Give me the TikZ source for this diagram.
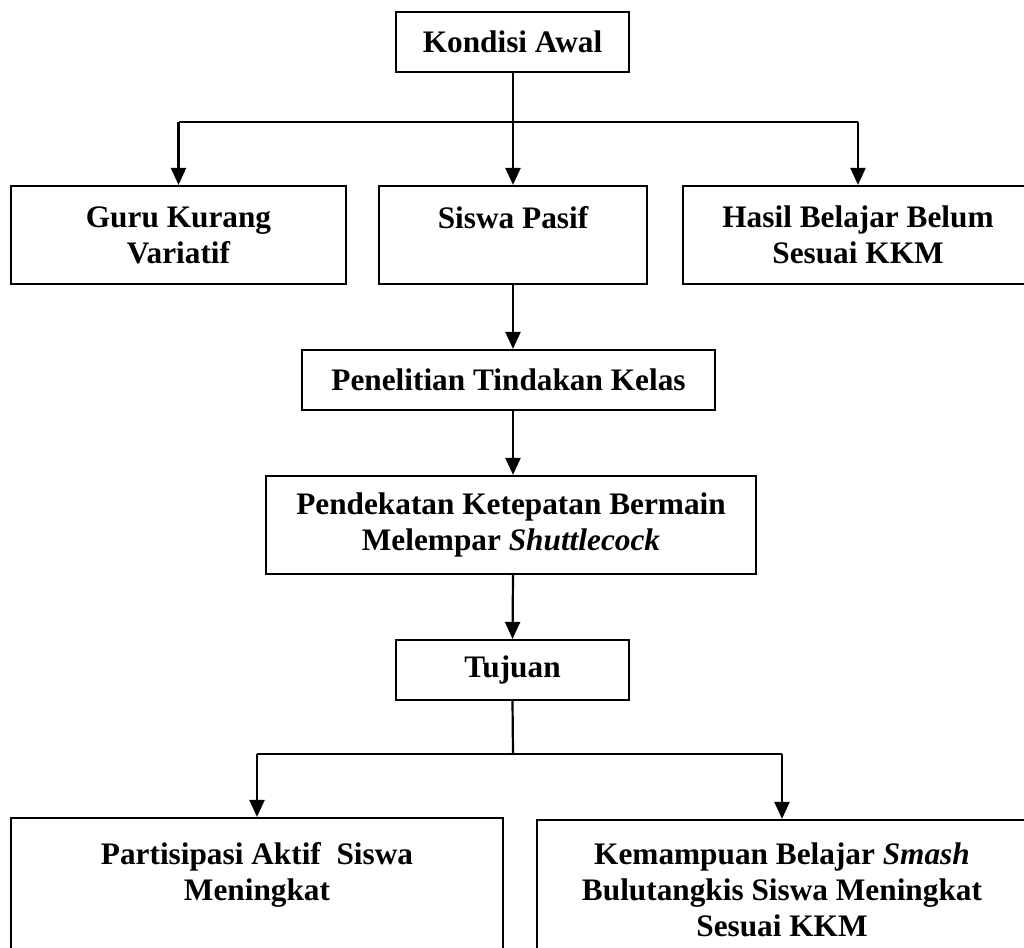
\documentclass[tikz,border=0pt]{standalone}
\usepackage{fontspec}
\setmainfont{Liberation Serif}
\usetikzlibrary{arrows.meta}
\begin{document}
\begin{tikzpicture}[x=1pt,y=-1pt,
  box/.style={draw, line width=2.2pt, align=center, inner sep=0pt,
    font=\fontsize{31.3}{36}\selectfont\bfseries},
  conn/.style={line width=2.2pt},
  arr/.style={line width=2.2pt, -{Triangle[length=17pt,width=15pt]}}]
\useasboundingbox (0,0) rectangle (1024,947);
\clip (0,0) rectangle (1024,947);
\fill[white] (0,0) rectangle (1024,947);
% nodes
\node[box, minimum width=233, minimum height=60] (kondisi) at (512.5,42) {Kondisi Awal};
\node[box, minimum width=335, minimum height=98] (guru) at (178.5,235) {Guru Kurang\\Variatif};
\node[box, minimum width=268, minimum height=98] (siswa) at (513,235) {Siswa Pasif\\\mbox{}};
\node[box, minimum width=350, minimum height=98] (hasil) at (858,235) {Hasil Belajar Belum\\Sesuai KKM};
\node[box, minimum width=413, minimum height=60] (penelitian) at (508.5,380) {Penelitian Tindakan Kelas};
\node[box, minimum width=490, minimum height=98] (pendekatan) at (511,525) {Pendekatan Ketepatan Bermain\\Melempar \textit{Shuttlecock}};
\node[box, minimum width=233, minimum height=60] (tujuan) at (512.5,670) {Tujuan};
\node[box, minimum width=492, minimum height=142] (partisipasi) at (257,889) {Partisipasi Aktif\ \ Siswa\\Meningkat\\\mbox{}};
\node[box, minimum width=490, minimum height=140] (kemampuan) at (782,890) {Kemampuan Belajar \textit{Smash}\\Bulutangkis Siswa Meningkat\\Sesuai KKM};
% branch coordinates
\coordinate (br1) at (513,122);
\coordinate (br2) at (513,754);
% connectors
\draw[arr] (kondisi.south -| siswa.north) -- (siswa.north);
\draw[conn] (guru.north |- br1) -- (hasil.north |- br1);
\draw[arr] (guru.north |- br1) -- (guru.north);
\draw[arr] (hasil.north |- br1) -- (hasil.north);
\draw[arr] (siswa.south) -- (siswa.south |- penelitian.north);
\draw[arr] (siswa.south |- penelitian.south) -- (siswa.south |- pendekatan.north);
\draw[arr] (siswa.south |- pendekatan.south) -- (tujuan.north);
\draw[conn] (tujuan.south) -- (br2);
\draw[conn] (partisipasi.north |- br2) -- (kemampuan.north |- br2);
\draw[arr] (partisipasi.north |- br2) -- (partisipasi.north);
\draw[arr] (kemampuan.north |- br2) -- (kemampuan.north);
\end{tikzpicture}
\end{document}
